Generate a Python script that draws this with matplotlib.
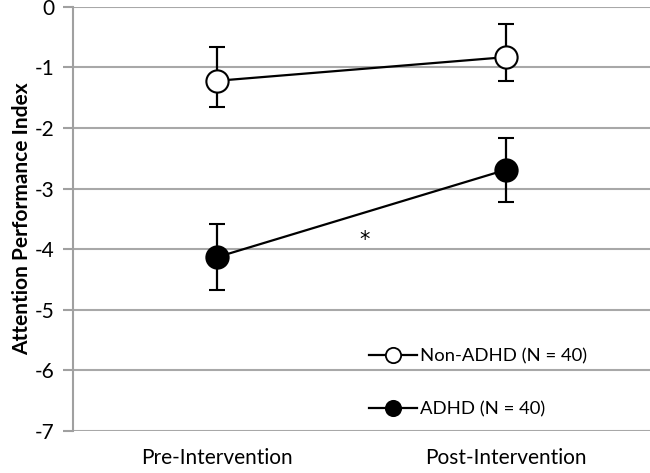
import matplotlib
matplotlib.use("Agg")
import matplotlib.pyplot as plt
from matplotlib.lines import Line2D

categories = ["Pre-Intervention", "Post-Intervention"]
non_adhd = [-1.22, -0.83]
non_adhd_err_lo = [0.43, 0.39]
non_adhd_err_hi = [0.55, 0.55]
adhd = [-4.13, -2.69]
adhd_err_lo = [0.54, 0.53]
adhd_err_hi = [0.55, 0.53]
yticks = [0, -1, -2, -3, -4, -5, -6, -7]
labels = ['Non-ADHD (N = 40)', 'ADHD (N = 40)']

plt.rcParams['font.family'] = ['Lato', 'DejaVu Sans']

fig = plt.figure(figsize=(6.5, 4.73), dpi=100)
ax = fig.add_axes([0.1123, 0.0888, 0.8877, 0.8967])

x = [0.5, 1.5]
ax.errorbar(x, non_adhd, yerr=[non_adhd_err_lo, non_adhd_err_hi], color='black',
            lw=1.6, marker='o', ms=16, mfc='white', mec='black', mew=1.5,
            capsize=6, capthick=1.6, elinewidth=1.6, zorder=3)
ax.errorbar(x, adhd, yerr=[adhd_err_lo, adhd_err_hi], color='black',
            lw=1.6, marker='o', ms=16, mfc='black', mec='black', mew=1.5,
            capsize=6, capthick=1.6, elinewidth=1.6, zorder=3)
ax.text(1.01, -3.85, '*', ha='center', va='center', fontsize=15, family='DejaVu Sans')

ax.set_xlim(0, 2)
ax.set_ylim(-7, 0)
ax.set_xticks(x)
ax.set_xticklabels(categories, fontsize=15)
ax.set_yticks(yticks)
ax.set_yticklabels([str(v) for v in yticks], fontsize=15)
ax.tick_params(axis='x', length=0, pad=12)
ax.tick_params(axis='y', length=7, color='#a0a0a0', width=1.5, pad=6)
ax.grid(axis='y', color='#a8a8a8', lw=1.5)
ax.set_axisbelow(True)
for s in ['top', 'right', 'bottom']:
    ax.spines[s].set_visible(False)
ax.spines['left'].set_color('#a0a0a0')
ax.spines['left'].set_linewidth(1.5)
ax.set_ylabel('Attention Performance Index', fontsize=15, fontweight='bold', labelpad=2)

handles = [Line2D([], [], color='black', lw=1.6, marker='o', ms=11, mfc='white', mec='black', mew=1.3),
           Line2D([], [], color='black', lw=1.6, marker='o', ms=11, mfc='black', mec='black', mew=1.3)]
leg = ax.legend(handles, labels, loc='center left', bbox_to_anchor=(0.485, 0.113), frameon=False,
                fontsize=13.3, labelspacing=2.0, handlelength=2.6,
                handletextpad=0.15)

fig.savefig('out.png', dpi=100)
